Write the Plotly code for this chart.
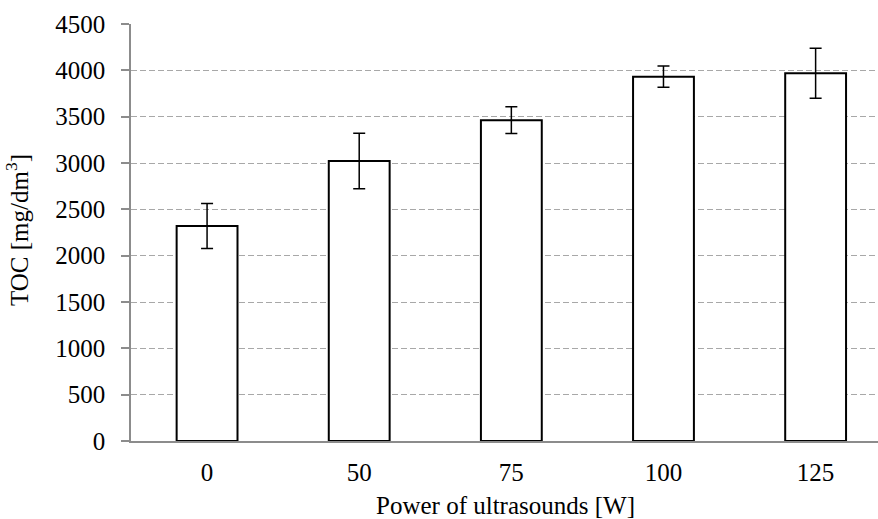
import plotly.graph_objects as go

power = ["0", "50", "75", "100", "125"]
toc = [2320, 3022, 3462, 3932, 3969]
toc_err = [242, 300, 144, 115, 270]
y_ticks = [0, 500, 1000, 1500, 2000, 2500, 3000, 3500, 4000, 4500]

W, H = 878, 519
L, R, T, B = 131, 0, 24, 78

fig = go.Figure()
fig.add_trace(go.Bar(
    x=power, y=toc,
    width=0.4,
    marker=dict(color="white", line=dict(color="black", width=2)),
    error_y=dict(type="data", array=toc_err, visible=True,
                 color="black", thickness=1.5, width=6),
))

font = "Liberation Serif, Times New Roman, serif"
fs = 25
fig.update_layout(
    width=W, height=H,
    margin=dict(l=L, r=R, t=T, b=B),
    paper_bgcolor="white", plot_bgcolor="white",
    showlegend=False,
    font=dict(family=font, size=fs, color="black"),
    xaxis=dict(
        type="category",
        range=[-0.5, 4.41],
        showline=True, linecolor="#8c8c8c", linewidth=1.5,
        showgrid=False, ticks="", ticklabelstandoff=8,
        tickfont=dict(family=font, size=fs, color="black"),
    ),
    yaxis=dict(
        range=[0, 4500],
        tickvals=y_ticks,
        showline=True, linecolor="#8c8c8c", linewidth=1.5,
        ticks="outside", ticklen=8, tickcolor="#8c8c8c", tickwidth=1.5,
        showgrid=True, gridcolor="#a8a8a8", griddash="6px,3px", gridwidth=1.2,
        zeroline=False, ticklabelstandoff=11,
        tickfont=dict(family=font, size=fs, color="black"),
    ),
    annotations=[
        dict(text="Power of ultrasounds [W]", xref="paper", yref="paper",
             x=(505 - L) / (W - L - R), y=-(505 - (H - B)) / (H - T - B),
             xanchor="center", yanchor="middle", showarrow=False,
             font=dict(family=font, size=fs, color="black")),
        dict(text="TOC [mg/dm<sup>3</sup>]", xref="paper", yref="paper",
             x=-(L - 17) / (W - L - R), y=(H - B - 230) / (H - T - B),
             xanchor="center", yanchor="middle", textangle=-90, showarrow=False,
             font=dict(family=font, size=fs, color="black")),
    ],
)

fig.write_html("out.html", config={"displayModeBar": False},
               post_script="document.body.style.margin='0';document.body.style.overflow='hidden';")
